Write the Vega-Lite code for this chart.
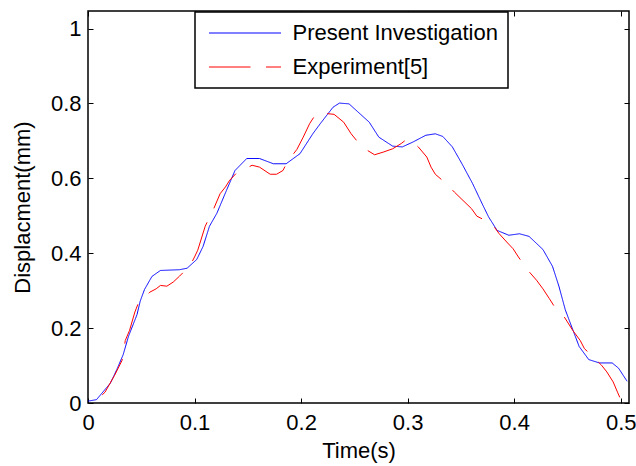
{
  "$schema": "https://vega.github.io/schema/vega-lite/v6.json",
  "autosize": {"type": "none"},
  "padding": {"left": 88, "top": 11, "right": 7, "bottom": 63},
  "width": 541,
  "height": 392,
  "background": "white",
  "config": {
    "view": {"stroke": "#000000", "strokeWidth": 1.5},
    "font": "Liberation Sans",
    "axis": {
      "domain": false,
      "grid": false,
      "tickColor": "#000000",
      "tickWidth": 1,
      "tickSize": -5,
      "labelFont": "Liberation Sans",
      "labelFontSize": 22,
      "labelColor": "#000000",
      "titleFont": "Liberation Sans",
      "titleFontSize": 22,
      "titleFontWeight": "normal",
      "titleColor": "#000000"
    },
    "legend": {
      "orient": "none",
      "legendX": 107,
      "legendY": 1,
      "strokeColor": "#000000",
      "strokeWidth": 1.5,
      "fillColor": "#ffffff",
      "padding": 10,
      "symbolType": "stroke",
      "symbolSize": 5184,
      "symbolStrokeWidth": 1,
      "clipHeight": 22,
      "labelFont": "Liberation Sans",
      "labelFontSize": 22,
      "labelColor": "#000000",
      "rowPadding": 12,
      "symbolOffset": 3.5,
      "labelOffset": 11,
      "labelLimit": 400
    }
  },
  "datasets": {
    "curves": [
      {"series": "Present Investigation", "t": 0.0, "d": 0.005},
      {"series": "Present Investigation", "t": 0.008, "d": 0.009},
      {"series": "Present Investigation", "t": 0.021, "d": 0.053},
      {"series": "Present Investigation", "t": 0.027, "d": 0.089},
      {"series": "Present Investigation", "t": 0.033, "d": 0.129},
      {"series": "Present Investigation", "t": 0.038, "d": 0.178},
      {"series": "Present Investigation", "t": 0.046, "d": 0.236},
      {"series": "Present Investigation", "t": 0.049, "d": 0.272},
      {"series": "Present Investigation", "t": 0.053, "d": 0.303},
      {"series": "Present Investigation", "t": 0.060, "d": 0.338},
      {"series": "Present Investigation", "t": 0.068, "d": 0.354},
      {"series": "Present Investigation", "t": 0.086, "d": 0.356},
      {"series": "Present Investigation", "t": 0.093, "d": 0.360},
      {"series": "Present Investigation", "t": 0.102, "d": 0.383},
      {"series": "Present Investigation", "t": 0.108, "d": 0.418},
      {"series": "Present Investigation", "t": 0.114, "d": 0.472},
      {"series": "Present Investigation", "t": 0.121, "d": 0.507},
      {"series": "Present Investigation", "t": 0.130, "d": 0.568},
      {"series": "Present Investigation", "t": 0.138, "d": 0.621},
      {"series": "Present Investigation", "t": 0.149, "d": 0.653},
      {"series": "Present Investigation", "t": 0.161, "d": 0.653},
      {"series": "Present Investigation", "t": 0.174, "d": 0.639},
      {"series": "Present Investigation", "t": 0.186, "d": 0.639},
      {"series": "Present Investigation", "t": 0.199, "d": 0.666},
      {"series": "Present Investigation", "t": 0.211, "d": 0.719},
      {"series": "Present Investigation", "t": 0.218, "d": 0.746},
      {"series": "Present Investigation", "t": 0.230, "d": 0.790},
      {"series": "Present Investigation", "t": 0.236, "d": 0.801},
      {"series": "Present Investigation", "t": 0.245, "d": 0.799},
      {"series": "Present Investigation", "t": 0.264, "d": 0.750},
      {"series": "Present Investigation", "t": 0.273, "d": 0.710},
      {"series": "Present Investigation", "t": 0.286, "d": 0.686},
      {"series": "Present Investigation", "t": 0.295, "d": 0.684},
      {"series": "Present Investigation", "t": 0.305, "d": 0.697},
      {"series": "Present Investigation", "t": 0.317, "d": 0.715},
      {"series": "Present Investigation", "t": 0.326, "d": 0.719},
      {"series": "Present Investigation", "t": 0.333, "d": 0.712},
      {"series": "Present Investigation", "t": 0.342, "d": 0.684},
      {"series": "Present Investigation", "t": 0.351, "d": 0.639},
      {"series": "Present Investigation", "t": 0.361, "d": 0.586},
      {"series": "Present Investigation", "t": 0.370, "d": 0.532},
      {"series": "Present Investigation", "t": 0.376, "d": 0.497},
      {"series": "Present Investigation", "t": 0.384, "d": 0.461},
      {"series": "Present Investigation", "t": 0.395, "d": 0.448},
      {"series": "Present Investigation", "t": 0.405, "d": 0.452},
      {"series": "Present Investigation", "t": 0.414, "d": 0.445},
      {"series": "Present Investigation", "t": 0.427, "d": 0.410},
      {"series": "Present Investigation", "t": 0.436, "d": 0.365},
      {"series": "Present Investigation", "t": 0.442, "d": 0.312},
      {"series": "Present Investigation", "t": 0.448, "d": 0.249},
      {"series": "Present Investigation", "t": 0.455, "d": 0.196},
      {"series": "Present Investigation", "t": 0.461, "d": 0.151},
      {"series": "Present Investigation", "t": 0.470, "d": 0.116},
      {"series": "Present Investigation", "t": 0.480, "d": 0.107},
      {"series": "Present Investigation", "t": 0.492, "d": 0.107},
      {"series": "Present Investigation", "t": 0.498, "d": 0.093},
      {"series": "Present Investigation", "t": 0.506, "d": 0.058},
      {"series": "Experiment[5]", "t": 0.0035, "d": 0.0},
      {"series": "Experiment[5]", "t": 0.0066, "d": 0.003},
      {"series": "Experiment[5]", "t": 0.016, "d": 0.029},
      {"series": "Experiment[5]", "t": 0.025, "d": 0.074},
      {"series": "Experiment[5]", "t": 0.032, "d": 0.114},
      {"series": "Experiment[5]", "t": 0.035, "d": 0.167},
      {"series": "Experiment[5]", "t": 0.039, "d": 0.194},
      {"series": "Experiment[5]", "t": 0.044, "d": 0.243},
      {"series": "Experiment[5]", "t": 0.047, "d": 0.265},
      {"series": "Experiment[5]", "t": 0.053, "d": 0.281},
      {"series": "Experiment[5]", "t": 0.058, "d": 0.296},
      {"series": "Experiment[5]", "t": 0.064, "d": 0.305},
      {"series": "Experiment[5]", "t": 0.068, "d": 0.314},
      {"series": "Experiment[5]", "t": 0.074, "d": 0.312},
      {"series": "Experiment[5]", "t": 0.080, "d": 0.323},
      {"series": "Experiment[5]", "t": 0.086, "d": 0.339},
      {"series": "Experiment[5]", "t": 0.096, "d": 0.368},
      {"series": "Experiment[5]", "t": 0.100, "d": 0.390},
      {"series": "Experiment[5]", "t": 0.103, "d": 0.408},
      {"series": "Experiment[5]", "t": 0.110, "d": 0.472},
      {"series": "Experiment[5]", "t": 0.118, "d": 0.519},
      {"series": "Experiment[5]", "t": 0.124, "d": 0.559},
      {"series": "Experiment[5]", "t": 0.129, "d": 0.577},
      {"series": "Experiment[5]", "t": 0.133, "d": 0.595},
      {"series": "Experiment[5]", "t": 0.139, "d": 0.613},
      {"series": "Experiment[5]", "t": 0.154, "d": 0.635},
      {"series": "Experiment[5]", "t": 0.161, "d": 0.630},
      {"series": "Experiment[5]", "t": 0.171, "d": 0.611},
      {"series": "Experiment[5]", "t": 0.177, "d": 0.611},
      {"series": "Experiment[5]", "t": 0.183, "d": 0.621},
      {"series": "Experiment[5]", "t": 0.187, "d": 0.644},
      {"series": "Experiment[5]", "t": 0.196, "d": 0.677},
      {"series": "Experiment[5]", "t": 0.202, "d": 0.710},
      {"series": "Experiment[5]", "t": 0.208, "d": 0.746},
      {"series": "Experiment[5]", "t": 0.213, "d": 0.768},
      {"series": "Experiment[5]", "t": 0.217, "d": 0.775},
      {"series": "Experiment[5]", "t": 0.231, "d": 0.771},
      {"series": "Experiment[5]", "t": 0.240, "d": 0.750},
      {"series": "Experiment[5]", "t": 0.247, "d": 0.719},
      {"series": "Experiment[5]", "t": 0.257, "d": 0.684},
      {"series": "Experiment[5]", "t": 0.269, "d": 0.663},
      {"series": "Experiment[5]", "t": 0.277, "d": 0.670},
      {"series": "Experiment[5]", "t": 0.286, "d": 0.679},
      {"series": "Experiment[5]", "t": 0.294, "d": 0.693},
      {"series": "Experiment[5]", "t": 0.299, "d": 0.704},
      {"series": "Experiment[5]", "t": 0.303, "d": 0.701},
      {"series": "Experiment[5]", "t": 0.310, "d": 0.684},
      {"series": "Experiment[5]", "t": 0.318, "d": 0.657},
      {"series": "Experiment[5]", "t": 0.322, "d": 0.630},
      {"series": "Experiment[5]", "t": 0.326, "d": 0.611},
      {"series": "Experiment[5]", "t": 0.337, "d": 0.584},
      {"series": "Experiment[5]", "t": 0.344, "d": 0.563},
      {"series": "Experiment[5]", "t": 0.352, "d": 0.541},
      {"series": "Experiment[5]", "t": 0.360, "d": 0.519},
      {"series": "Experiment[5]", "t": 0.365, "d": 0.499},
      {"series": "Experiment[5]", "t": 0.379, "d": 0.479},
      {"series": "Experiment[5]", "t": 0.386, "d": 0.452},
      {"series": "Experiment[5]", "t": 0.393, "d": 0.430},
      {"series": "Experiment[5]", "t": 0.399, "d": 0.412},
      {"series": "Experiment[5]", "t": 0.404, "d": 0.390},
      {"series": "Experiment[5]", "t": 0.413, "d": 0.354},
      {"series": "Experiment[5]", "t": 0.421, "d": 0.328},
      {"series": "Experiment[5]", "t": 0.427, "d": 0.305},
      {"series": "Experiment[5]", "t": 0.433, "d": 0.279},
      {"series": "Experiment[5]", "t": 0.437, "d": 0.261},
      {"series": "Experiment[5]", "t": 0.447, "d": 0.230},
      {"series": "Experiment[5]", "t": 0.455, "d": 0.194},
      {"series": "Experiment[5]", "t": 0.462, "d": 0.167},
      {"series": "Experiment[5]", "t": 0.466, "d": 0.145},
      {"series": "Experiment[5]", "t": 0.471, "d": 0.132},
      {"series": "Experiment[5]", "t": 0.482, "d": 0.101},
      {"series": "Experiment[5]", "t": 0.487, "d": 0.083},
      {"series": "Experiment[5]", "t": 0.493, "d": 0.056},
      {"series": "Experiment[5]", "t": 0.497, "d": 0.029},
      {"series": "Experiment[5]", "t": 0.501, "d": 0.003}
    ]
  },
  "data": {"name": "curves"},
  "resolve": {"axis": {"x": "independent", "y": "independent"}},
  "layer": [
    {
      "mark": {"type": "line", "strokeWidth": 1, "clip": true, "strokeDashOffset": 43.5},
      "encoding": {
        "x": {
          "field": "t", "type": "quantitative",
          "scale": {"domain": [0, 0.5078], "nice": false, "zero": false},
          "axis": {"values": [0, 0.1, 0.2, 0.3, 0.4, 0.5], "format": "~g", "title": "Time(s)", "labelPadding": 14, "titlePadding": 7, "labelFlush": false}
        },
        "y": {
          "field": "d", "type": "quantitative",
          "scale": {"domain": [0, 1.047], "nice": false, "zero": false},
          "axis": {"values": [0, 0.2, 0.4, 0.6, 0.8, 1], "format": "~g", "title": "Displacment(mm)", "labelPadding": 12, "titlePadding": 16, "labelFlush": false}
        },
        "color": {
          "field": "series", "type": "nominal",
          "scale": {"domain": ["Present Investigation", "Experiment[5]"], "range": ["#0000ff", "#ff0000"]},
          "legend": {"title": null}
        },
        "strokeDash": {
          "field": "series", "type": "nominal",
          "scale": {"domain": ["Present Investigation", "Experiment[5]"], "range": [[1, 0], [41.5, 15.5]]},
          "legend": {"title": null}
        },
        "order": {"field": "t", "type": "quantitative"}
      }
    },
    {
      "mark": {"type": "line", "opacity": 0},
      "encoding": {
        "x": {
          "field": "t", "type": "quantitative",
          "axis": {"orient": "top", "values": [0, 0.1, 0.2, 0.3, 0.4, 0.5], "labels": false, "title": null}
        },
        "y": {
          "field": "d", "type": "quantitative",
          "axis": {"orient": "right", "values": [0, 0.2, 0.4, 0.6, 0.8, 1], "labels": false, "title": null}
        },
        "detail": {"field": "series", "type": "nominal"}
      }
    }
  ]
}
